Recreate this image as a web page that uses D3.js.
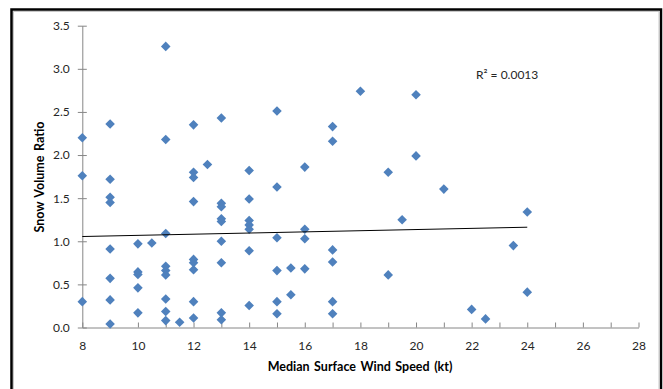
<!DOCTYPE html>
<html>
<head>
<meta charset="utf-8">
<script src="https://cdn.jsdelivr.net/npm/d3@7"></script>
<style>
  html, body { margin: 0; padding: 0; background: #fff; }
  svg { display: block; }
</style>
</head>
<body>
<div id="chart"></div>
<script>
// wind speed (kt) and snow volume ratio
const windSpeed = [
  8, 8, 8,
  9, 9, 9, 9, 9, 9, 9, 9,
  10, 10, 10, 10, 10,
  10.5,
  11, 11, 11, 11, 11, 11, 11, 11, 11,
  11.5,
  12, 12, 12, 12, 12, 12, 12, 12, 12,
  12.5,
  13, 13, 13, 13, 13, 13, 13, 13, 13,
  14, 14, 14, 14, 14, 14, 14,
  15, 15, 15, 15, 15, 15,
  15.5, 15.5,
  16, 16, 16, 16,
  17, 17, 17, 17, 17, 17,
  18,
  19, 19,
  19.5,
  20, 20,
  21,
  22,
  22.5,
  23.5,
  24, 24
];
const snowRatio = [
  2.20, 1.76, 0.30,
  2.36, 1.72, 1.51, 1.45, 0.91, 0.57, 0.32, 0.04,
  0.97, 0.645, 0.615, 0.46, 0.17,
  0.98,
  3.26, 2.18, 1.09, 0.71, 0.66, 0.61, 0.33, 0.185, 0.08,
  0.06,
  2.35, 1.80, 1.74, 1.46, 0.79, 0.75, 0.67, 0.30, 0.11,
  1.89,
  2.43, 1.44, 1.40, 1.26, 1.23, 1.00, 0.75, 0.17, 0.09,
  1.82, 1.49, 1.24, 1.19, 1.14, 0.89, 0.255,
  2.51, 1.63, 1.04, 0.66, 0.30, 0.16,
  0.69, 0.38,
  1.86, 1.14, 1.03, 0.68,
  2.33, 2.16, 0.90, 0.76, 0.30, 0.16,
  2.74,
  1.80, 0.61,
  1.25,
  2.70, 1.99,
  1.605,
  0.21,
  0.10,
  0.95,
  1.34, 0.41
];

// linear trendline ends
const trendX = [8, 24];
const trendY = [1.055, 1.163];
const rSquared = 'R² = 0.0013';

const xTickMarks = [8, 9, 10, 11, 12, 13, 14, 15, 16, 17, 18, 19, 20, 21, 22, 23, 24, 25, 26, 27, 28];
const xTickLabels = [8, 10, 12, 14, 16, 18, 20, 22, 24, 26, 28];
const yTicks = [0, 0.5, 1.0, 1.5, 2.0, 2.5, 3.0, 3.5];

const W = 663;
const H = 389;
const FONT = 'Lato, "Open Sans", sans-serif';
const AXIS_GREY = '#868686';
const MARKER = '#4f81bd';

const svg = d3.select('#chart').append('svg').attr('width', W).attr('height', H);
svg.append('rect').attr('width', W).attr('height', H).attr('fill', '#fff');

// chart frame
svg.append('rect')
  .attr('x', 11.5).attr('y', 9.5)
  .attr('width', 649.5).attr('height', 390)
  .attr('fill', 'none').attr('stroke', '#000').attr('stroke-width', 2.5);
svg.append('rect')
  .attr('x', 13.5).attr('y', 11.5)
  .attr('width', 645.5).attr('height', 390)
  .attr('fill', 'none').attr('stroke', '#c8c8c8').attr('stroke-width', 1);

const x = d3.scaleLinear().domain([8, 28]).range([82.3, 638.5]);
const y = d3.scaleLinear().domain([0, 3.5]).range([327.5, 25.7]);

// y axis with crossing ticks
const yAxis = svg.append('g')
  .attr('transform', `translate(${x(8)},0)`)
  .call(d3.axisLeft(y).tickValues(yTicks).tickSizeInner(4.5).tickSizeOuter(0).tickPadding(8).tickFormat(d3.format('.1f')));
yAxis.select('.domain').attr('stroke', AXIS_GREY);
yAxis.selectAll('.tick line').attr('stroke', AXIS_GREY).attr('x1', 4.5);
yAxis.selectAll('.tick text')
  .attr('fill', '#262626').attr('font-size', 12).attr('font-family', FONT);

// x axis: inside ticks every knot, labels every two
const xAxis = svg.append('g')
  .attr('transform', `translate(0,${y(0)})`)
  .call(d3.axisBottom(x).tickValues(xTickMarks).tickSizeInner(-5).tickSizeOuter(0).tickPadding(14)
    .tickFormat((v) => (xTickLabels.includes(v) ? String(v) : '')));
xAxis.select('.domain').attr('stroke', AXIS_GREY);
xAxis.selectAll('.tick line').attr('stroke', AXIS_GREY);
xAxis.selectAll('.tick text')
  .attr('fill', '#262626').attr('font-size', 12).attr('font-family', FONT);

// markers
const diamond = d3.symbol().type(d3.symbolSquare).size(46);
svg.append('g')
  .selectAll('path')
  .data(windSpeed.map((w, i) => [w, snowRatio[i]]))
  .join('path')
  .attr('d', diamond)
  .attr('transform', (d) => `translate(${x(d[0])},${y(d[1])}) rotate(45)`)
  .attr('fill', MARKER);

// trendline
svg.append('line')
  .attr('x1', x(trendX[0])).attr('y1', y(trendY[0]))
  .attr('x2', x(trendX[1])).attr('y2', y(trendY[1]))
  .attr('stroke', '#000').attr('stroke-width', 1);

svg.append('text')
  .attr('x', 476).attr('y', 79)
  .attr('fill', '#262626').attr('font-size', 12).attr('font-family', FONT)
  .text(rSquared);

// axis titles
svg.append('text')
  .attr('x', 360).attr('y', 371)
  .attr('text-anchor', 'middle')
  .attr('fill', '#000').attr('font-size', 12.5).attr('font-weight', 700).attr('font-family', FONT)
  .attr('word-spacing', 1.5)
  .text('Median Surface Wind Speed (kt)');

svg.append('text')
  .attr('transform', 'translate(44,177) rotate(-90)')
  .attr('text-anchor', 'middle')
  .attr('fill', '#000').attr('font-size', 12.5).attr('font-weight', 700).attr('font-family', FONT)
  .attr('word-spacing', 1.5)
  .text('Snow Volume Ratio');
</script>
</body>
</html>
